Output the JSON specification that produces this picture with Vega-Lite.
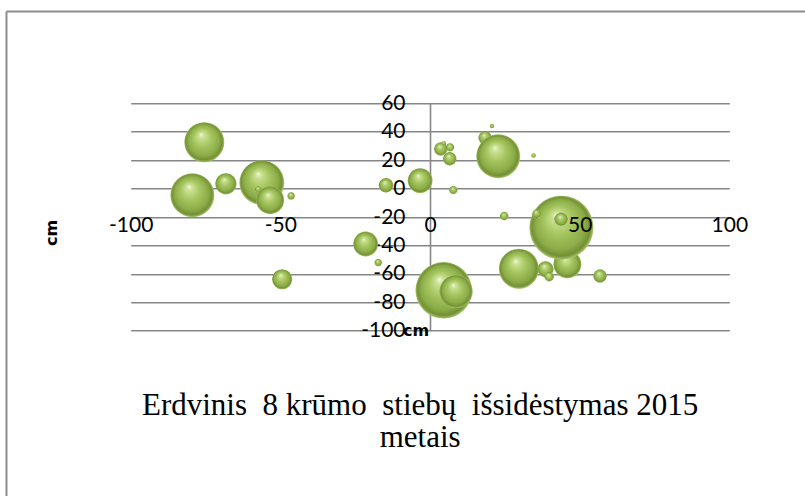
{
  "$schema": "https://vega.github.io/schema/vega-lite/v6.json",
  "width": 598.6,
  "height": 227.4,
  "autosize": {"type": "none"},
  "padding": {"left": 130.7, "top": 103.3, "right": 75.7, "bottom": 165.3},
  "background": "#ffffff",
  "config": {"view": {"stroke": null}},
  "layer": [
    {
      "data": {
        "values": [
          {"x": -75.4, "y": 32.6, "s": 39},
          {"x": -79.4, "y": -4.7, "s": 47},
          {"x": -68.2, "y": 3.4, "s": 11},
          {"x": -56.2, "y": 4.2, "s": 49},
          {"x": -57.4, "y": -0.5, "s": 1},
          {"x": -53.4, "y": -8.2, "s": 19},
          {"x": -46.4, "y": -5.2, "s": 1.3},
          {"x": -14.7, "y": 2.3, "s": 5.2},
          {"x": -3.3, "y": 5.6, "s": 15},
          {"x": -21.5, "y": -39, "s": 15},
          {"x": -17.3, "y": -52.1, "s": 1.3},
          {"x": -49.4, "y": -63.8, "s": 10},
          {"x": 4.6, "y": -71.6, "s": 78},
          {"x": 8.7, "y": -72.5, "s": 27},
          {"x": 3.6, "y": 27.9, "s": 4.4},
          {"x": 4.6, "y": 31.9, "s": 0.5},
          {"x": 6.7, "y": 29, "s": 1.6},
          {"x": 6.6, "y": 21, "s": 4.4},
          {"x": 7.8, "y": -1, "s": 1.6},
          {"x": 18.4, "y": 35.8, "s": 4.4},
          {"x": 20.7, "y": 44, "s": 0.5},
          {"x": 22.8, "y": 22.7, "s": 47},
          {"x": 34.6, "y": 23.2, "s": 0.5},
          {"x": 24.8, "y": -19.3, "s": 1.8},
          {"x": 45.9, "y": -53.3, "s": 19},
          {"x": 43.9, "y": -27.5, "s": 100},
          {"x": 35.6, "y": -17.7, "s": 1.8},
          {"x": 43.8, "y": -21.6, "s": 4.4},
          {"x": 29.7, "y": -56.4, "s": 39},
          {"x": 38.6, "y": -56.8, "s": 6.3},
          {"x": 39.8, "y": -62, "s": 2.2},
          {"x": 56.8, "y": -61.5, "s": 4.4}
        ]
      },
      "mark": {
        "type": "point",
        "shape": "circle",
        "filled": true,
        "opacity": 1,
        "strokeWidth": 0,
        "fill": {
          "gradient": "radial",
          "x1": 0.42, "y1": 0.3, "r1": 0,
          "x2": 0.5, "y2": 0.5, "r2": 0.5,
          "stops": [
            {"offset": 0, "color": "#f0f8d8"},
            {"offset": 0.15, "color": "#c9e092"},
            {"offset": 0.45, "color": "#a5c55f"},
            {"offset": 0.78, "color": "#8aab47"},
            {"offset": 0.92, "color": "#728f33"},
            {"offset": 1, "color": "#abc76e"}
          ]
        }
      },
      "encoding": {
        "x": {
          "field": "x",
          "type": "quantitative",
          "scale": {"domain": [-100, 100], "nice": false, "zero": false},
          "axis": {
            "orient": "bottom",
            "offset": -142.1,
            "values": [-100, -50, 0, 50, 100],
            "tickCount": 10,
            "labelExpr": "toString(datum.value)",
            "grid": false,
            "ticks": false,
            "domain": false,
            "zindex": 1,
            "labelFont": "Lato",
            "labelFontSize": 21,
            "labelColor": "#000000",
            "labelPadding": 26,
            "labelFlush": false,
            "labelOverlap": false,
            "title": "cm",
            "titleFont": "DejaVu Sans",
            "titleFontSize": 16,
            "titleFontWeight": "bold",
            "titleColor": "#000000",
            "titleX": 285,
            "titleY": 146.4,
            "titleAlign": "center",
            "titleBaseline": "alphabetic"
          }
        },
        "y": {
          "field": "y",
          "type": "quantitative",
          "scale": {"domain": [-100, 60], "nice": false, "zero": false},
          "axis": {
            "orient": "left",
            "offset": -299.3,
            "values": [-100, -80, -60, -40, -20, 0, 20, 40, 60],
            "tickCount": 12,
            "labelExpr": "toString(datum.value)",
            "grid": true,
            "gridColor": "#868686",
            "gridWidth": 1.6,
            "ticks": false,
            "domainColor": "#868686",
            "domainWidth": 1.6,
            "labelFont": "Lato",
            "labelFontSize": 21,
            "labelColor": "#000000",
            "labelPadding": 25,
            "labelFlush": false,
            "labelOverlap": false,
            "title": "cm",
            "titleFont": "DejaVu Sans",
            "titleFontSize": 16,
            "titleFontWeight": "bold",
            "titleColor": "#000000",
            "titleAngle": -90,
            "titleX": -374,
            "titleY": 129,
            "titleAlign": "center",
            "titleBaseline": "alphabetic"
          }
        },
        "size": {
          "field": "s",
          "type": "quantitative",
          "scale": {"domain": [0, 100], "range": [0, 4096], "zero": true},
          "legend": null
        }
      }
    },
    {
      "data": {"values": [{}]},
      "mark": {"type": "rule", "stroke": "#8c8c8c", "strokeWidth": 2},
      "encoding": {
        "x": {"datum": -141.5},
        "y": {"datum": 124.6},
        "y2": {"datum": -250}
      }
    },
    {
      "data": {"values": [{}]},
      "mark": {"type": "rule", "stroke": "#8c8c8c", "strokeWidth": 2},
      "encoding": {
        "y": {"datum": 124.6},
        "x": {"datum": -141.5},
        "x2": {"datum": 135}
      }
    },
    {
      "data": {"values": [{}]},
      "mark": {
        "type": "text",
        "text": ["Erdvinis \u00a08 krūmo \u00a0stiebų \u00a0išsidėstymas 2015", "metais"],
        "font": "Liberation Serif",
        "fontSize": 31,
        "lineHeight": 32,
        "align": "center",
        "baseline": "alphabetic",
        "color": "#000000"
      },
      "encoding": {
        "x": {"datum": -3.3},
        "y": {"datum": -159.3}
      }
    }
  ]
}
